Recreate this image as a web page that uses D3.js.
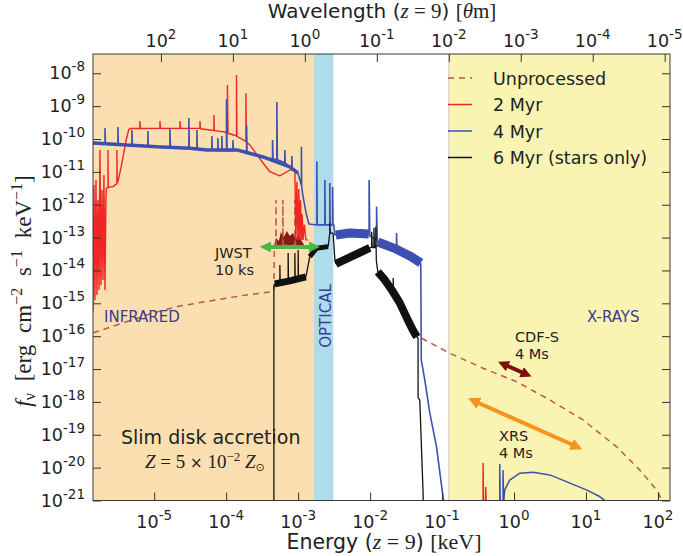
<!DOCTYPE html>
<html>
<head>
<meta charset="utf-8">
<script src="https://cdn.jsdelivr.net/npm/d3@7/dist/d3.min.js"></script>
<style>
  body { margin: 0; background: #fff; }
  text { font-family: "DejaVu Sans", sans-serif; fill: #222; }
</style>
</head>
<body>
<div id="chart"></div>
<script>
// ---- axis ranges and ticks ----
const energyDomain = [1.41e-6, 147];          // keV
const fluxDomain = [1e-21, 3.86e-8];          // erg cm^-2 s^-1 keV^-1
const energyTicks = [1e-5, 1e-4, 1e-3, 1e-2, 1e-1, 1e0, 1e1, 1e2];
const wavelengthTicks = [1e2, 1e1, 1e0, 1e-1, 1e-2, 1e-3, 1e-4, 1e-5];
const fluxTicks = [1e-8, 1e-9, 1e-10, 1e-11, 1e-12, 1e-13, 1e-14, 1e-15, 1e-16, 1e-17, 1e-18, 1e-19, 1e-20, 1e-21];
const hc = 1.23984e-3; // keV * micron

// band limits in keV: infrared | optical | uv | x-rays
const bandEdges = [1.41e-6, 1.65e-3, 3.1e-3, 0.124, 147];
const bandColors = ["#fcdfb0", "#aedcea", "#ffffff", "#faf4b3"];

// ---- spectra [E keV, f] ----
const unprocessedLow = [
  [1.41e-6, 1.26e-16], [3.34e-6, 2.36e-16], [8.71e-6, 4.75e-16], [2.28e-5, 8.32e-16],
  [5.94e-5, 1.18e-15], [1.55e-4, 1.68e-15], [4.05e-4, 2.22e-15], [4.60e-4, 2.4e-15],
  [4.67e-4, 5.97e-14], [4.91e-4, 6e-14], [4.91e-4, 1.4e-12], [4.95e-4, 6e-14],
  [6.13e-4, 6e-14], [6.13e-4, 1.4e-12], [6.2e-4, 6e-14], [9.0e-4, 6e-14],
  [9.0e-4, 1.4e-12], [9.1e-4, 6e-14], [1.24e-3, 5.6e-14]
];
const unprocessedHigh = [
  [5.18e-2, 8.67e-17], [0.128, 3.03e-17], [0.371, 1.06e-17], [1.08, 4.15e-18],
  [3.13, 1.15e-18], [9.09, 2.83e-19], [26.4, 4.37e-20], [55.7, 8.53e-21],
  [100, 1.87e-21], [112, 1.0e-21]
];
const unprocessedLines = [
  [4.60e-4, 5.57e-14], [4.91e-4, 9.75e-14], [5.40e-4, 7.91e-14], [5.75e-4, 1.49e-13],
  [6.32e-4, 1.05e-13], [6.97e-4, 1.59e-13], [7.67e-4, 1.12e-13], [8.44e-4, 1.38e-13],
  [9.29e-4, 9.10e-14], [1.02e-3, 1.29e-13], [1.12e-3, 7.91e-14], [1.24e-3, 5.57e-14]
];
const unprocessedLinesBase = 5.57e-14;

const twoMyr = [
  [1.41e-6, 5.47e-16], [1.45e-6, 4.0e-12], [1.50e-6, 1.27e-15], [1.55e-6, 5.68e-12],
  [1.60e-6, 1.80e-15], [1.65e-6, 1.40e-12], [1.71e-6, 2.55e-15], [1.76e-6, 4.65e-11],
  [1.82e-6, 3.62e-15], [1.88e-6, 2.82e-12], [1.94e-6, 5.15e-15], [2.00e-6, 8.05e-12],
  [2.07e-6, 2.55e-15], [2.13e-6, 1.40e-12], [2.17e-6, 3.24e-12],
  [2.28e-6, 3.3e-12], [2.28e-6, 4.65e-11], [2.30e-6, 3.4e-12], [2.67e-6, 3.55e-12],
  [3.03e-6, 4.4e-12], [3.03e-6, 4.65e-11], [3.06e-6, 4.5e-12], [3.13e-6, 5.04e-12],
  [3.48e-6, 1.44e-11], [4.08e-6, 9.35e-11], [4.41e-6, 1.88e-10], [4.61e-6, 2.09e-10],
  [6.32e-6, 2.09e-10], [6.32e-6, 3.54e-10], [6.45e-6, 2.09e-10],
  [1.20e-5, 2.1e-10], [1.20e-5, 3.54e-10], [1.22e-5, 2.1e-10],
  [2.28e-5, 2.1e-10], [2.28e-5, 3.54e-10], [2.32e-5, 2.1e-10],
  [4.32e-5, 2.1e-10], [4.32e-5, 3.54e-10], [4.4e-5, 2.05e-10],
  [5.94e-5, 1.88e-10],
  [6.75e-5, 1.8e-10], [6.75e-5, 5.38e-10], [6.85e-5, 1.8e-10],
  [8.99e-5, 1.67e-10],
  [1.04e-4, 1.55e-10], [1.04e-4, 4.41e-9], [1.06e-4, 1.5e-10],
  [1.3e-4, 1.3e-10],
  [1.39e-4, 1.24e-10], [1.39e-4, 8.87e-9], [1.41e-4, 1.2e-10],
  [1.88e-4, 8.5e-11], [1.88e-4, 2.47e-9], [1.91e-4, 8.2e-11],
  [2.13e-4, 6.59e-11], [3.27e-4, 1.83e-11], [4.05e-4, 1.01e-11], [5.57e-4, 7.51e-12],
  [7.67e-4, 1.14e-11], [9.0e-4, 1.14e-11],
  [9.3e-4, 8.5e-14], [9.6e-4, 5e-12], [9.9e-4, 8.5e-14], [1.02e-3, 3e-12],
  [1.05e-3, 8.5e-14], [1.08e-3, 1.4e-12], [1.11e-3, 8.5e-14], [1.14e-3, 5e-13],
  [1.17e-3, 8.5e-14], [1.22e-3, 2.5e-13], [1.28e-3, 8.5e-14], [1.36e-3, 8.49e-14]
];
const twoMyrXray = [
  [0.371, 9e-22], [0.371, 1.39e-20], [0.379, 9e-22], [0.404, 9e-22], [0.404, 2.59e-21], [0.411, 9e-22]
];

const fourMyr = [
  [1.41e-6, 7.59e-11],
  [2.07e-6, 7.2e-11], [2.07e-6, 2.17e-10], [2.1e-6, 7.2e-11],
  [3.13e-6, 6.9e-11], [3.13e-6, 2.32e-10], [3.17e-6, 6.9e-11],
  [4.18e-6, 6.59e-11],
  [4.90e-6, 6.4e-11], [4.90e-6, 1.88e-10], [4.97e-6, 6.4e-11],
  [8.17e-6, 6.0e-11], [8.17e-6, 1.76e-10], [8.28e-6, 6.0e-11],
  [1.09e-5, 5.85e-11],
  [1.65e-5, 5.6e-11], [1.65e-5, 2.17e-10], [1.68e-5, 5.6e-11],
  [3.03e-5, 5.25e-11], [3.03e-5, 4.37e-10], [3.07e-5, 5.2e-11],
  [3.92e-5, 5.0e-11], [3.92e-5, 1.88e-10], [3.97e-5, 5.0e-11],
  [5.40e-5, 4.65e-11],
  [6.33e-5, 4.6e-11], [6.33e-5, 1.24e-10], [6.41e-5, 4.6e-11],
  [7.67e-5, 4.55e-11], [7.67e-5, 1.08e-10], [7.77e-5, 4.5e-11],
  [8.71e-5, 4.45e-11], [8.71e-5, 1.24e-10], [8.82e-5, 4.4e-11],
  [1.01e-4, 4.4e-11], [1.01e-4, 1.62e-9], [1.03e-4, 4.4e-11],
  [1.24e-4, 4.5e-11], [1.24e-4, 9.35e-11], [1.26e-4, 4.5e-11], [1.41e-4, 4.65e-11],
  [1.92e-4, 4.2e-11], [1.92e-4, 2.67e-10], [1.95e-4, 4.1e-11],
  [3.24e-4, 2.84e-11],
  [4.41e-4, 2.5e-11], [4.41e-4, 9.35e-11], [4.48e-4, 2.45e-11],
  [5.06e-4, 2.4e-11], [5.06e-4, 1.34e-9], [5.14e-4, 2.35e-11],
  [6.53e-4, 1.9e-11], [6.53e-4, 4.65e-11], [6.62e-4, 1.85e-11],
  [7.67e-4, 1.41e-11],
  [8.17e-4, 1.3e-11], [8.17e-4, 3.05e-11], [8.3e-4, 1.25e-11],
  [8.44e-4, 1.14e-11], [9.91e-4, 9.27e-12],
  [1.11e-3, 4e-12], [1.11e-3, 5.85e-11], [1.12e-3, 3.5e-12],
  [1.16e-3, 1.99e-12], [1.28e-3, 6.03e-13], [1.41e-3, 2.60e-13],
  [1.82e-3, 2.43e-13], [1.82e-3, 2.05e-11], [1.84e-3, 2.43e-13],
  [2.35e-3, 2.43e-13], [2.35e-3, 5.68e-12], [2.38e-3, 2.43e-13],
  [2.75e-3, 2.43e-13], [2.75e-3, 4.60e-12], [2.78e-3, 2.43e-13],
  [3.01e-3, 2.43e-13], [3.01e-3, 3.48e-12], [3.05e-3, 2.43e-13],
  [3.13e-3, 2.43e-13], [3.24e-3, 1.20e-13], [5.22e-3, 1.38e-13], [9.59e-3, 1.29e-13],
  [9.68e-3, 1.29e-13], [9.68e-3, 5.68e-12], [9.91e-3, 1.12e-13],
  [1.23e-2, 8.49e-14], [1.23e-2, 8.75e-13], [1.26e-2, 7.38e-14],
  [2.28e-2, 4.52e-14],
  [2.33e-2, 4.4e-14], [2.33e-2, 1.38e-13], [2.36e-2, 4.3e-14],
  [3.56e-2, 2.77e-14], [5.06e-2, 1.58e-14], [5.14e-2, 1.90e-17], [5.75e-2, 4.67e-18],
  [6.75e-2, 4.63e-19], [8.36e-2, 4.37e-20], [0.103, 1.32e-21], [0.106, 9e-22]
];
const fourMyrBandIR = [
  [1.41e-6, 7.59e-11], [4.18e-6, 6.59e-11], [1.09e-5, 5.85e-11], [3.13e-5, 5.22e-11],
  [5.4e-5, 4.65e-11], [1.41e-4, 4.65e-11], [3.24e-4, 2.84e-11], [7.67e-4, 1.41e-11], [9.91e-4, 9.27e-12]
];
const fourMyrBandUV1 = [[3.34e-3, 1.20e-13], [5.22e-3, 1.38e-13], [9.59e-3, 1.29e-13]];
const fourMyrBandUV2 = [[1.28e-2, 7.38e-14], [2.28e-2, 4.52e-14], [3.56e-2, 2.77e-14], [5.06e-2, 1.7e-14]];
const fourMyrXray = [
  [0.633, 9e-22], [0.633, 1.30e-20], [0.643, 9e-22], [0.703, 9e-22], [0.703, 8.53e-21],
  [0.719, 9e-22], [0.743, 2.10e-21], [0.871, 4.15e-21], [1.20, 6.78e-21], [1.84, 7.26e-21],
  [3.13, 6.01e-21], [5.34, 3.76e-21], [10.1, 2.10e-21], [15.5, 1.32e-21], [19.4, 9e-22]
];

const sixMyr = [
  [4.60e-4, 9e-22], [4.60e-4, 3.15e-15], [4.74e-4, 3.89e-15],
  [5.57e-4, 4.1e-15], [5.57e-4, 1.47e-14], [5.63e-4, 4.1e-15],
  [7.26e-4, 4.6e-15], [7.26e-4, 3.41e-14], [7.34e-4, 4.6e-15],
  [9.0e-4, 5.3e-15], [9.0e-4, 3.41e-14], [9.1e-4, 5.3e-15],
  [1.0e-3, 5.5e-15], [1.0e-3, 4.21e-14], [1.01e-3, 5.5e-15],
  [1.28e-3, 6.35e-15], [1.31e-3, 8.22e-15], [1.45e-3, 2.63e-14], [1.62e-3, 3.73e-14],
  [1.80e-3, 4.74e-14], [2.61e-3, 5.31e-14], [2.75e-3, 1.36e-13], [2.75e-3, 2.74e-13],
  [2.8e-3, 1.36e-13], [3.06e-3, 1.36e-13], [3.24e-3, 2.09e-14], [3.34e-3, 1.58e-14],
  [5.75e-3, 2.77e-14], [9.91e-3, 4.84e-14],
  [1.05e-2, 5.0e-14], [1.05e-2, 1.5e-13], [1.07e-2, 5e-14],
  [1.13e-2, 5e-14], [1.13e-2, 2.0e-13], [1.15e-2, 5e-14],
  [1.20e-2, 5e-14], [1.20e-2, 2.15e-13], [1.22e-2, 2e-14],
  [1.28e-2, 9.02e-15], [1.60e-2, 5.15e-15], [2.00e-2, 2.55e-15],
  [2.09e-2, 2.2e-15], [2.09e-2, 5.92e-15], [2.12e-2, 2.1e-15],
  [2.58e-2, 1.03e-15], [3.24e-2, 3.60e-16], [3.92e-2, 1.55e-16], [4.46e-2, 9.49e-17],
  [4.64e-2, 8.85e-17], [4.64e-2, 1.32e-18], [4.90e-2, 1.15e-18], [5.45e-2, 1.67e-21], [5.48e-2, 9e-22]
];
const sixMyrBandA = [[4.74e-4, 3.89e-15], [7.67e-4, 4.80e-15], [1.28e-3, 6.35e-15]];
const sixMyrBandB = [[1.45e-3, 2.63e-14], [1.80e-3, 4.74e-14], [2.61e-3, 5.31e-14]];
const sixMyrBandC = [[3.34e-3, 1.58e-14], [5.75e-3, 2.77e-14], [9.91e-3, 4.84e-14]];
const sixMyrBandD = [
  [1.28e-2, 9.02e-15], [1.60e-2, 5.15e-15], [2.00e-2, 2.55e-15], [2.58e-2, 1.03e-15],
  [3.24e-2, 3.60e-16], [3.92e-2, 1.55e-16], [4.46e-2, 9.49e-17]
];

// ---- instrument sensitivities (arrows) ----
const jwstArrow = [[2.94e-4, 5.2e-14], [2.0e-3, 5.2e-14]];
const cdfsArrow = [[0.6, 1.68e-17], [1.75, 5.89e-18]];
const xrsArrow = [[0.23, 1.29e-18], [8.9, 3.64e-20]];

const legendNames = ["Unprocessed", "2 Myr", "4 Myr", "6 Myr (stars only)"];
const legendColors = ["#b8574c", "#f22424", "#3d50b0", "#111111"];

// ---- layout ----
const margin = {top: 54, right: 13, bottom: 55.5, left: 93},
    width = 683 - margin.left - margin.right,
    height = 556 - margin.top - margin.bottom;

const svg = d3.select("#chart")
    .append("svg")
    .attr("width", 683)
    .attr("height", 556);

const g = svg.append("g")
    .attr("transform", "translate(" + margin.left + "," + margin.top + ")");

const x = d3.scaleLog().domain(energyDomain).range([0, width]);
const xTop = d3.scaleLog().domain([hc / energyDomain[0], hc / energyDomain[1]]).range([0, width]);
const y = d3.scaleLog().domain(fluxDomain).range([height, 0]);

g.append("clipPath").attr("id", "clip")
    .append("rect").attr("width", width).attr("height", height);

// background bands
g.selectAll("rect.band")
    .data(d3.range(bandColors.length))
    .enter()
    .append("rect")
    .attr("class", "band")
    .attr("x", i => x(bandEdges[i]))
    .attr("width", i => x(bandEdges[i + 1]) - x(bandEdges[i]))
    .attr("y", 0)
    .attr("height", height)
    .attr("fill", i => bandColors[i]);
g.append("line")
    .attr("x1", x(bandEdges[3])).attr("x2", x(bandEdges[3]))
    .attr("y1", 0).attr("y2", height)
    .attr("stroke", "#c8c8c8").attr("stroke-width", 1);

const plot = g.append("g").attr("clip-path", "url(#clip)");

const line = d3.line().x(d => x(d[0])).y(d => y(d[1]));

function drawLine(data, color, w, dash) {
    plot.append("path")
        .datum(data)
        .attr("d", line)
        .attr("fill", "none")
        .attr("stroke", color)
        .attr("stroke-width", w)
        .attr("stroke-linejoin", "bevel")
        .attr("stroke-dasharray", dash || null);
}

// unprocessed
plot.append("path")
    .datum(unprocessedLines)
    .attr("d", d3.area().x(d => x(d[0])).y0(y(unprocessedLinesBase)).y1(d => y(d[1])))
    .attr("fill", "#8a1a16");
drawLine(unprocessedLow, legendColors[0], 1.5, "6,5");
drawLine(unprocessedHigh, legendColors[0], 1.5, "6,5");

// 2 Myr
drawLine(twoMyr, legendColors[1], 1.4);
drawLine(twoMyrXray, legendColors[1], 1.4);

// 4 Myr
drawLine(fourMyrBandIR, legendColors[2], 3.5);
drawLine(fourMyrBandUV1, legendColors[2], 9);
drawLine(fourMyrBandUV2, legendColors[2], 9);
drawLine(fourMyr, legendColors[2], 1.6);
drawLine(fourMyrXray, legendColors[2], 1.5);

// 6 Myr
drawLine(sixMyrBandA, legendColors[3], 7);
drawLine(sixMyrBandB, legendColors[3], 5);
drawLine(sixMyrBandC, legendColors[3], 8);
drawLine(sixMyrBandD, legendColors[3], 8);
drawLine(sixMyr, legendColors[3], 1.3);

// arrows
const defs = svg.append("defs");
function arrow(data, color, w, head, id) {
    defs.append("marker")
        .attr("id", id)
        .attr("viewBox", "0 0 10 10")
        .attr("refX", 4).attr("refY", 5)
        .attr("markerUnits", "userSpaceOnUse")
        .attr("markerWidth", head).attr("markerHeight", head)
        .attr("orient", "auto-start-reverse")
        .append("path")
        .attr("d", "M0,0L10,5L0,10z")
        .attr("fill", color);
    const x1 = x(data[0][0]), y1 = y(data[0][1]), x2 = x(data[1][0]), y2 = y(data[1][1]);
    const len = Math.hypot(x2 - x1, y2 - y1), s = head * 0.6 / len;
    g.append("line")
        .attr("x1", x1 + (x2 - x1) * s).attr("y1", y1 + (y2 - y1) * s)
        .attr("x2", x2 - (x2 - x1) * s).attr("y2", y2 - (y2 - y1) * s)
        .attr("stroke", color).attr("stroke-width", w)
        .attr("marker-start", "url(#" + id + ")")
        .attr("marker-end", "url(#" + id + ")");
}
arrow(jwstArrow, "#45b845", 4, 11, "mJwst");
arrow(cdfsArrow, "#7c1010", 4, 11, "mCdfs");
arrow(xrsArrow, "#f7931e", 4, 12, "mXrs");

// axes (ticks pointing inward)
function sup(sel, v) {
    sel.append("tspan").text("10");
    sel.append("tspan").attr("dy", -8).attr("font-size", "13.5px")
        .text(String(Math.round(Math.log10(v))));
}
g.append("g").attr("transform", `translate(0,${height})`)
    .call(d3.axisBottom(x).tickValues(energyTicks).tickSize(-8).tickFormat(""));
g.append("g")
    .call(d3.axisTop(xTop).tickValues(wavelengthTicks).tickSize(-8).tickFormat(""));
g.append("g")
    .call(d3.axisLeft(y).tickValues(fluxTicks).tickSize(-8).tickFormat(""));
g.append("g").attr("transform", `translate(${width},0)`)
    .call(d3.axisRight(y).tickValues(fluxTicks).tickSize(-8).tickFormat(""));
g.selectAll(".domain").remove();
g.selectAll(".tick line").attr("stroke", "#333");

g.append("rect")
    .attr("width", width).attr("height", height)
    .attr("fill", "none").attr("stroke", "#3a3a3a").attr("stroke-width", 1);

energyTicks.forEach(t => {
    g.append("text").attr("x", x(t)).attr("y", height + 27)
        .attr("text-anchor", "middle").attr("font-size", "17.5px").call(sup, t);
});
wavelengthTicks.forEach(t => {
    g.append("text").attr("x", xTop(t)).attr("y", -7)
        .attr("text-anchor", "middle").attr("font-size", "17.5px").call(sup, t);
});
fluxTicks.forEach(t => {
    g.append("text").attr("x", -8).attr("y", y(t) + 6)
        .attr("text-anchor", "end").attr("font-size", "17.5px").call(sup, t);
});

// axis titles
const serif = "'Liberation Serif', serif";
function parts(sel, list) {
    list.forEach(p => {
        const t = sel.append("tspan").text(p[0]);
        if (p[1]) t.attr("font-family", p[1]);
        if (p[2]) t.attr("font-style", p[2]);
        if (p[3]) t.attr("dy", p[3]);
        if (p[4]) t.attr("font-size", p[4]);
    });
}
svg.append("text").attr("x", 382).attr("y", 18).attr("text-anchor", "middle")
    .attr("font-size", "20px")
    .call(parts, [["Wavelength ("], ["z", serif, "italic", 0, "21px"], [" = 9", serif, null, 0, "21px"],
                  [") "], ["[", serif, null, 0, "21px"], ["θ", serif, "italic", 0, "21px"], ["m]", serif, null, 0, "21px"]]);
svg.append("text").attr("x", 384).attr("y", 549).attr("text-anchor", "middle")
    .attr("font-size", "20.5px")
    .call(parts, [["Energy ("], ["z", serif, "italic", 0, "22px"], [" = 9", serif, null, 0, "22px"],
                  [") "], ["[keV]", serif, null, 0, "22px"]]);
svg.append("text")
    .attr("transform", "translate(31,291) rotate(-90)")
    .attr("text-anchor", "middle")
    .attr("font-family", serif).attr("font-size", "23px")
    .attr("word-spacing", "6px")
    .call(parts, [["f", serif, "italic"], ["ν", serif, null, 4, "16px"], [" [erg cm", serif, null, -4],
                  ["−2", serif, null, -9, "16px"], [" s", serif, null, 9], ["−1", serif, null, -9, "16px"],
                  [" keV", serif, null, 9], ["−1", serif, null, -9, "16px"], ["]", serif, null, 9]]);

// region labels
const regionColor = "#3b3b8f";
svg.append("text").attr("x", 104).attr("y", 322).attr("font-size", "15px")
    .style("fill", regionColor).text("INFRARED");
svg.append("text").attr("x", 587).attr("y", 322).attr("font-size", "15px")
    .style("fill", regionColor).text("X-RAYS");
svg.append("text").attr("transform", "translate(331,316) rotate(-90)")
    .attr("text-anchor", "middle").attr("font-size", "15px")
    .style("fill", regionColor).text("OPTICAL");

// instrument labels
[["JWST", 215, 258], ["10 ks", 215, 275], ["CDF-S", 515, 342], ["4 Ms", 515, 359],
 ["XRS", 499, 441], ["4 Ms", 499, 458]].forEach(d => {
    svg.append("text").attr("x", d[1]).attr("y", d[2]).attr("font-size", "14.5px").text(d[0]);
});

svg.append("text").attr("x", 121).attr("y", 444).attr("font-size", "19px")
    .text("Slim disk accretion");
svg.append("text").attr("x", 145).attr("y", 468).attr("font-size", "19px")
    .attr("font-family", serif)
    .call(parts, [["Z", serif, "italic"], [" = 5 ", serif], ["× ", "'DejaVu Sans'", null, 0, "15px"],
                  ["10", serif], ["−2", serif, null, -7, "13px"], [" Z", serif, "italic", 7], ["⊙", "'DejaVu Sans'", null, 3, "11px"]]);

// legend
const legend = svg.append("g").attr("id", "legend");
legendNames.forEach((name, i) => {
    const ly = 78 + i * 26.5;
    legend.append("line")
        .attr("x1", 448).attr("x2", 472).attr("y1", ly).attr("y2", ly)
        .attr("stroke", legendColors[i]).attr("stroke-width", 1.5)
        .attr("stroke-dasharray", i === 0 ? "6,5" : null);
    legend.append("text").attr("x", 493).attr("y", ly + 6.5)
        .attr("font-size", "17.5px").text(name);
});
</script>
</body>
</html>
